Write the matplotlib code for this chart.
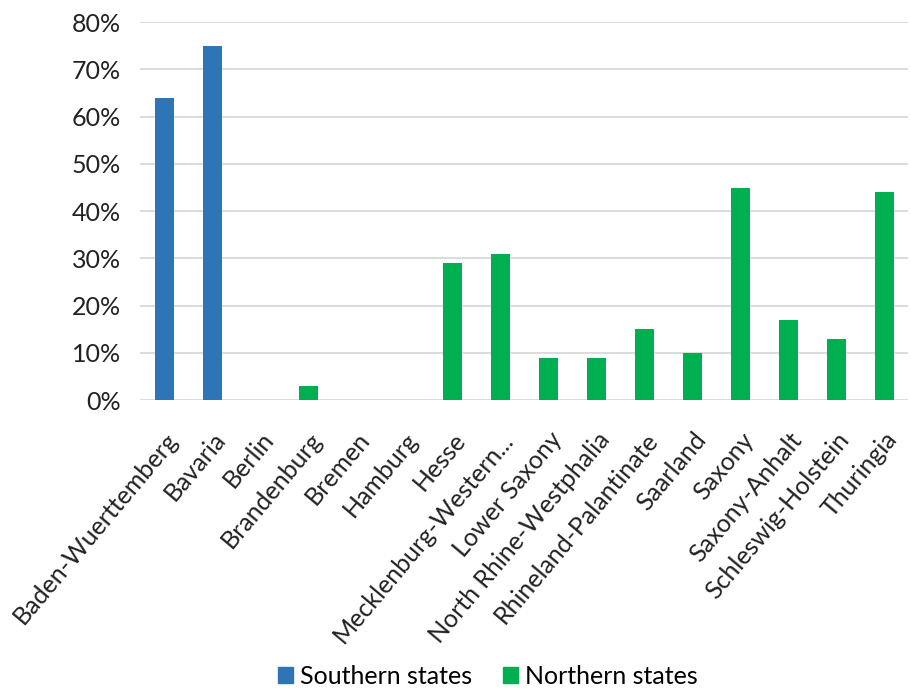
import numpy as np
import matplotlib.pyplot as plt
from matplotlib.patches import Patch

states = ['Baden-Wuerttemberg', 'Bavaria', 'Berlin', 'Brandenburg', 'Bremen',
          'Hamburg', 'Hesse', 'Mecklenburg-Western...', 'Lower Saxony',
          'North Rhine-Westphalia', 'Rhineland-Palantinate', 'Saarland',
          'Saxony', 'Saxony-Anhalt', 'Schleswig-Holstein', 'Thuringia']
share = [0.64, 0.75, 0.0, 0.03, 0.0, 0.0, 0.29, 0.31, 0.09, 0.09, 0.15,
         0.10, 0.45, 0.17, 0.13, 0.44]
southern = ['Baden-Wuerttemberg', 'Bavaria']

blue = '#2E75B6'
green = '#00B050'

plt.rcParams['font.family'] = ['Lato', 'DejaVu Sans']

fig = plt.figure(figsize=(9.12, 6.9), dpi=100)
ax = fig.add_axes([0.154, 0.42, 0.842, 0.548])

x = np.arange(len(states))
colors = [blue if s in southern else green for s in states]
ax.bar(x, share, width=0.4, color=colors, zorder=3)

ax.set_xlim(-0.5, len(states) - 0.5)
ax.set_ylim(0, 0.8)
yt = np.arange(0, 0.81, 0.1)
ax.set_yticks(yt)
ax.set_yticklabels(['%d%%' % round(v * 100) for v in yt],
                   fontsize=18, color='#222222')
ax.set_xticks(x)
ax.set_xticklabels(states, rotation=50, ha='right', rotation_mode='anchor',
                   fontsize=18, color='#222222')
ax.tick_params(axis='y', length=0, pad=14)
ax.tick_params(axis='x', length=0, pad=20)
ax.grid(axis='y', color='#d9d9d9', linewidth=1.3, zorder=0)
for sp in ax.spines.values():
    sp.set_visible(False)

handles = [Patch(color=blue, label='Southern states'),
           Patch(color=green, label='Northern states')]
fig.legend(handles=handles, loc='lower center', ncol=2, frameon=False,
           fontsize=18, bbox_to_anchor=(0.535, -0.03), handlelength=0.6,
           handleheight=0.6, handletextpad=0.3, columnspacing=1.2)

fig.savefig('out.png', dpi=100)
